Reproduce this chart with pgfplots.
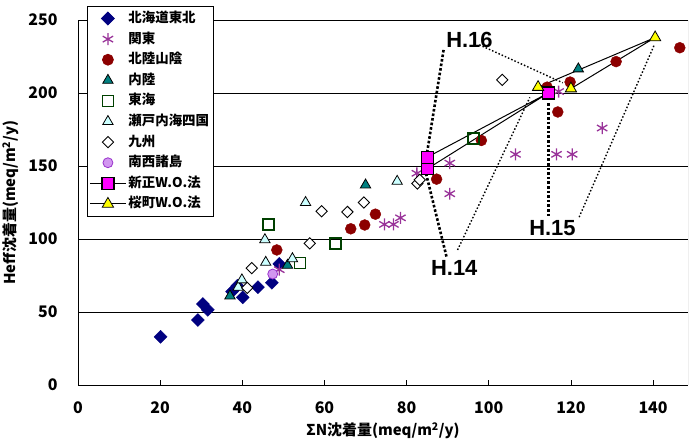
\documentclass[border=0pt]{standalone}
\usepackage{fontspec}
\setmainfont{Noto Sans CJK JP}
\newfontfamily\hfont{Liberation Sans}
\usepackage{pgfplots}
\pgfplotsset{compat=1.18}
\definecolor{navyc}{RGB}{0,0,128}
\definecolor{purpc}{RGB}{153,51,153}
\definecolor{redc}{RGB}{140,0,0}
\definecolor{tealc}{RGB}{0,128,128}
\definecolor{greenc}{RGB}{0,64,0}
\definecolor{cyanc}{RGB}{204,255,255}
\definecolor{violc}{RGB}{210,150,240}
\definecolor{violb}{RGB}{153,51,204}
\definecolor{magc}{RGB}{255,0,255}
\definecolor{yelc}{RGB}{255,255,0}
\begin{document}
\begin{tikzpicture}
\useasboundingbox (0,0) rectangle (699bp,443bp);
\begin{axis}[
  at={(78bp,58bp)}, anchor=south west,
  scale only axis, width=610bp, height=365bp,
  xmin=0, xmax=148.5, ymin=0, ymax=250,
  xtick={0,20,...,140}, ytick={0,50,...,250},
  axis x line*=bottom, axis y line*=left,
  axis line style={black, line width=1pt},
  ymajorgrids, grid style={black, line width=0.8pt},
  x tick style={black, line width=0.8pt}, tick align=inside,
  major tick length=5bp, y tick style={draw=none},
  /pgf/number format/assume math mode=true,
  ticklabel style={font=\fontsize{16}{16}\selectfont\bfseries},
  xticklabel style={yshift=-13bp},
  yticklabel style={xshift=-17bp},
  xlabel={\bfseries ΣN沈着量(meq/m\textsuperscript{2}/y)},
  ylabel={\bfseries Heff沈着量(meq/m\textsuperscript{2}/y)},
  label style={font=\fontsize{15}{15}\selectfont},
  xlabel style={yshift=-2bp},
  ylabel style={yshift=3bp},
  legend cell align=left,
  legend style={at={(axis description cs:0.0148,1.038)}, anchor=north west,
    draw=black, line width=0.8pt, fill=white, row sep=2.6bp,
    inner xsep=2bp, inner ysep=3bp,
    nodes={inner sep=2bp, text height=11bp, text depth=3bp,
      font=\fontsize{13.5}{14}\selectfont\bfseries}},
  legend image code/.code={\draw[mark repeat=2,mark phase=2,#1] plot coordinates {(0bp,0bp)(18bp,0bp)(36bp,0bp)};},
]
% annotation dotted lines
\draw[black, line width=2.6bp, dash pattern=on 2.6bp off 2bp] (axis cs:89,229.5) -- (axis cs:85,159.5);
\draw[black, line width=2.6bp, dash pattern=on 2.6bp off 2bp] (axis cs:114.5,193) -- (axis cs:114.5,116);
\draw[black, line width=2.6bp, dash pattern=on 2.6bp off 2bp] (axis cs:89.7,88) -- (axis cs:84.8,144);
\draw[black, line width=1.4bp, dash pattern=on 1.5bp off 2bp] (axis cs:97.7,233) -- (axis cs:118,207);
\draw[black, line width=1.4bp, dash pattern=on 1.5bp off 2bp] (axis cs:122,115) -- (axis cs:140.3,233);
\draw[black, line width=1.4bp, dash pattern=on 1.5bp off 2bp] (axis cs:92.4,92.5) -- (axis cs:110,197);

\addplot[only marks, mark=square*, mark size=4.6pt, mark options={rotate=45}, draw=navyc, fill=navyc] coordinates {
(20.1,33)(29.2,44.5)(30.4,55.5)(31.6,51.5)(37.5,64)(38.8,68)(40.1,60)(43.8,67)(47.2,70)(49,83)};
\addlegendentry{北海道東北}
\addplot[only marks, mark=asterisk, mark size=6pt, draw=purpc, line width=1.3pt] coordinates {
(49,79)(74.6,110)(76.8,110)(78.5,114.5)(82.5,145)(90.5,152)(90.5,131)(106.5,158)(116.5,158)(120.3,158)(127.6,176)(117,201)};
\addlegendentry{関東}
\addplot[only marks, mark=*, mark size=5.5pt, draw=redc, fill=redc] coordinates {
(48.4,92.5)(66.4,107)(69.8,109.6)(72.4,117)(87.3,141)(98.2,167.5)(114.2,204)(116.8,187)(119.8,207.5)(131,221.5)(146.5,231)};
\addlegendentry{北陸山陰}
\addplot[only marks, mark=triangle*, mark size=6pt, draw=black, fill=tealc, line width=0.8pt] coordinates {
(37,61)(51,82)(70,137)(121.8,216.5)};
\addlegendentry{内陸}
\addplot[only marks, mark=square, mark size=5.5pt, draw=greenc, line width=1.6pt] coordinates {
(46.4,110)(54,83.5)(62.7,97)(96.3,169)};
\addlegendentry{東海}
\addplot[only marks, mark=triangle*, mark size=6pt, draw=black, fill=cyanc, line width=0.8pt] coordinates {
(39,67)(39.9,72)(45.5,99.5)(45.7,84)(52.2,86.5)(55.4,125)(77.7,139.5)};
\addlegendentry{瀬戸内海四国}
\addplot[only marks, mark=square*, mark size=4pt, mark options={rotate=45}, draw=black, fill=white, line width=0.9pt] coordinates {
(41.2,66.5)(42.3,80)(56.4,97)(59.3,119)(65.6,118.5)(69.6,125)(82.6,138)(83.2,140.5)(103.3,209)};
\addlegendentry{九州}
\addplot[only marks, mark=*, mark size=5pt, draw=violb, fill=violc, line width=0.8pt] coordinates {
(47.4,76)};
\addlegendentry{南西諸島}
\addplot[black, line width=1pt, mark=square*, mark size=6pt, mark options={draw=black, fill=magc, line width=1.2pt}] coordinates {
(85,148)(114.5,200)(85,156)};
\addlegendentry{新正W.O.法}
\addplot[black, line width=1pt, mark=triangle*, mark size=6.5pt, mark options={draw=black, fill=yelc, line width=0.8pt}] coordinates {
(112,204)(140.5,238)(120,203)};
\addlegendentry{桜町W.O.法}

\node[font=\hfont\fontsize{22}{22}\selectfont\bfseries] at (axis cs:95.3,236) {H.16};
\node[font=\hfont\fontsize{22}{22}\selectfont\bfseries] at (axis cs:91.6,80) {H.14};
\node[font=\hfont\fontsize{22}{22}\selectfont\bfseries] at (axis cs:115.5,107.5) {H.15};
\draw[gray, line width=1pt] (rel axis cs:1,0) -- (rel axis cs:1,1);
\end{axis}
\end{tikzpicture}
\end{document}
